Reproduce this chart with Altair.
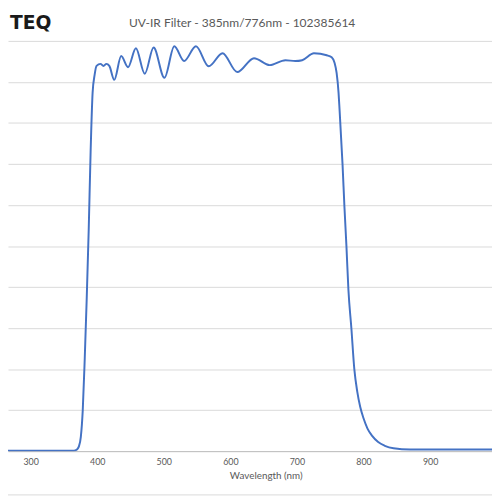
import altair as alt
import pandas as pd

wavelength_nm = [254, 300, 350, 365, 369.5, 372.4, 375.4, 378.3, 381.3, 384.2, 387.2, 390.1,
                 393.1, 396.1, 399, 404.9, 409.4, 413.8, 418.2, 425.6, 436, 446.3, 458.1,
                 471.4, 484.7, 501, 515.8, 530.5, 548.3, 567.5, 588.2, 610.3, 635.5, 659.1,
                 682.7, 697.5, 707.9, 725.6, 744.8, 752.2, 756.6, 759.6, 762.5, 764, 768.5,
                 771.4, 774.4, 777.3, 781.8, 786.2, 790.6, 795, 800, 806, 813, 822,
                 832, 845, 870, 904.4, 993]
transmission_pct = [0.1, 0.1, 0.1, 0.1, 0.4, 1.1, 3.5, 10, 22.7, 37, 53.8, 73,
                    87.4, 91.7, 93.9, 94.4, 93.9, 94.4, 93.9, 90.5, 96.3, 93.6, 98.2,
                    92, 98.4, 91, 98.7, 95.1, 98.7, 93.8, 97, 92.4, 95.8, 94.1,
                    95.3, 95.1, 95.3, 97, 96.5, 96, 94.6, 92.2, 87.4, 83.3, 69.9,
                    59.4, 49.8, 39.4, 29.9, 20, 14.5, 10.8, 8, 5.5, 3.7, 2.2,
                    1.3, 0.7, 0.4, 0.4, 0.4]
x_ticks = [300, 400, 500, 600, 700, 800, 900]
y_grid = [0, 10, 20, 30, 40, 50, 60, 70, 80, 90, 100]
title_text = ["UV-IR Filter - 385nm/776nm - 102385614"]
logo_text = ["TEQ"]
x_title = "Wavelength (nm)"

df = pd.DataFrame({"wl": wavelength_nm, "t": transmission_pct})

line = alt.Chart(df).mark_line(
    color="#4472C4", strokeWidth=2, interpolate="monotone", clip=True
).encode(
    x=alt.X("wl:Q",
            scale=alt.Scale(domain=[266, 993], nice=False, zero=False),
            axis=alt.Axis(values=x_ticks, title=x_title, grid=False, ticks=False,
                          labelFontSize=9, labelColor="#595959", labelPadding=7,
                          labelFont="Lato", domainColor="#bfbfbf", domainWidth=1,
                          titleFont="Lato", titleFontSize=10, titleFontWeight="normal",
                          titleColor="#595959", titleX=262, titleY=25,
                          titleAlign="center", titleBaseline="middle")),
    y=alt.Y("t:Q",
            scale=alt.Scale(domain=[0, 100], nice=False),
            axis=alt.Axis(values=y_grid, labels=False, ticks=False, domain=False,
                          title=None, gridColor="#d9d9d9", gridWidth=1)),
)

title = alt.Chart(pd.DataFrame({"t": title_text})).mark_text(
    font="Lato", fontSize=12.2, color="#595959", align="center", baseline="middle"
).encode(text="t:N", x=alt.value(238), y=alt.value(-18.4))

logo = alt.Chart(pd.DataFrame({"t": logo_text})).mark_text(
    font="DejaVu Sans", fontSize=19, fontWeight="bold", color="#1a1a1a",
    align="right", baseline="middle"
).encode(text="t:N", x=alt.value(44), y=alt.value(-18.4))

border = alt.Chart(pd.DataFrame({"a": [0]})).mark_rule(color="#d9d9d9", strokeWidth=1).encode(
    x=alt.value(0), x2=alt.value(492), y=alt.value(461.5)
)

chart = alt.layer(line, title, logo, border).properties(
    width=492, height=417,
    padding={"left": 0, "right": 0, "top": 29.4, "bottom": 45},
    autosize=alt.AutoSizeParams(type="none"),
    background="white",
).configure_view(stroke=None)

chart.save("out.html", embed_options={"renderer": "svg", "actions": False})
